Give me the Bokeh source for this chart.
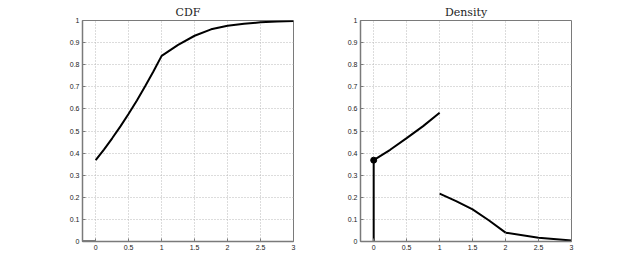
from bokeh.plotting import figure
from bokeh.layouts import row
from bokeh.models import FixedTicker, Range1d, Title
from bokeh.embed import file_html
from bokeh.resources import INLINE

# ---- data ----
x_ticks = [0, 0.5, 1, 1.5, 2, 2.5, 3]
x_tick_labels = ["0", "0.5", "1", "1.5", "2", "2.5", "3"]
y_ticks = [0, 0.1, 0.2, 0.3, 0.4, 0.5, 0.6, 0.7, 0.8, 0.9, 1]
y_tick_labels = ["0", "0.1", "0.2", "0.3", "0.4", "0.5", "0.6", "0.7", "0.8", "0.9", "1"]

cdf_zero_x = [-0.2, 0]
cdf_zero_y = [0, 0]
cdf_x = [0, 0.125, 0.25, 0.375, 0.5, 0.625, 0.75, 0.875, 1, 1.25, 1.5, 1.75, 2, 2.25, 2.5, 2.75, 3]
cdf_y = [0.368, 0.416, 0.467, 0.521, 0.578, 0.638, 0.702, 0.769, 0.840, 0.890, 0.931,
         0.960, 0.976, 0.985, 0.992, 0.996, 0.998]

dens_stem_x = [0, 0]
dens_stem_y = [0, 0.368]
dens_point_x = [0]
dens_point_y = [0.368]
dens1_x = [0, 0.25, 0.5, 0.75, 1]
dens1_y = [0.368, 0.415, 0.468, 0.522, 0.583]
dens2_x = [1, 1.25, 1.5, 1.75, 2]
dens2_y = [0.217, 0.183, 0.145, 0.095, 0.040]
dens3_x = [2, 2.5, 3]
dens3_y = [0.040, 0.017, 0.004]

titles = ["CDF", "Density"]

AXIS_COLOR = "#7a7a7a"
GRID_COLOR = "#b8b8b8"
LABEL_COLOR = "#222222"


def make_fig(width, border_left, border_right, title):
    p = figure(width=width, height=262, output_backend="svg", toolbar_location=None,
               x_range=Range1d(-0.2, 3), y_range=Range1d(0, 1),
               min_border_left=border_left, min_border_right=border_right,
               min_border_top=20, min_border_bottom=21)
    p.outline_line_color = AXIS_COLOR
    p.outline_line_width = 1
    p.background_fill_color = "white"
    p.border_fill_color = "white"
    p.xaxis.ticker = FixedTicker(ticks=x_ticks)
    p.yaxis.ticker = FixedTicker(ticks=y_ticks)
    p.xaxis.major_label_overrides = {t: l for t, l in zip(x_ticks, x_tick_labels)}
    p.yaxis.major_label_overrides = {t: l for t, l in zip(y_ticks, y_tick_labels)}
    for ax in (p.xaxis, p.yaxis):
        ax.axis_line_color = AXIS_COLOR
        ax.axis_line_width = 1.5
        ax.major_tick_line_color = AXIS_COLOR
        ax.major_tick_in = 3
        ax.major_tick_out = 0
        ax.minor_tick_line_color = None
        ax.major_label_text_font = "Liberation Sans"
        ax.major_label_text_font_size = "7px"
        ax.major_label_text_color = LABEL_COLOR
        ax.major_label_standoff = 3
    for g in (p.xgrid, p.ygrid):
        g.grid_line_color = GRID_COLOR
        g.grid_line_dash = "1 2"
        g.grid_line_width = 1
    p.xgrid.ticker = FixedTicker(ticks=x_ticks)
    p.ygrid.ticker = FixedTicker(ticks=y_ticks)
    p.add_layout(Title(text=title, align="center", text_font="DejaVu Serif",
                       text_font_size="11px", text_font_style="normal",
                       text_color="#222222", standoff=3), "above")
    return p


p1 = make_fig(320, 82, 27, titles[0])
p1.line(cdf_zero_x, cdf_zero_y, line_color="black", line_width=2)
p1.line(cdf_x, cdf_y, line_color="black", line_width=2)

p2 = make_fig(301, 40, 50, titles[1])
p2.line(dens_stem_x, dens_stem_y, line_color="black", line_width=2)
p2.line(dens1_x, dens1_y, line_color="black", line_width=2)
p2.line(dens2_x, dens2_y, line_color="black", line_width=2)
p2.line(dens3_x, dens3_y, line_color="black", line_width=2)
p2.scatter(dens_point_x, dens_point_y, size=6, color="black")

layout = row(p1, p2)
open("out.html", "w").write(file_html(layout, INLINE))
